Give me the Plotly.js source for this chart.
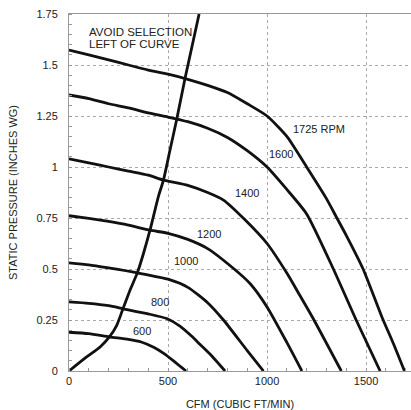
<!DOCTYPE html>
<html>
<head>
<meta charset="utf-8">
<script src="https://cdn.plot.ly/plotly-3.0.1.min.js"></script>
<style>html,body{margin:0;padding:0;background:#fff;overflow:hidden}#chart{width:411px;height:410px}</style>
</head>
<body>
<div id="chart"></div>
<script>
// Fan curves: CFM vs static pressure (inches WG)
var rpm1725Cfm = [0,100,200,300,400,500,600,700,800,900,1000,1100,1200,1300,1350,1400,1485,1580,1640,1694];
var rpm1725Sp  = [1.573,1.55,1.525,1.50,1.475,1.455,1.43,1.40,1.365,1.31,1.25,1.15,1.0,0.845,0.755,0.665,0.50,0.265,0.13,0];
var rpm1600Cfm = [0,100,200,300,400,500,600,700,800,900,1000,1100,1200,1335,1450,1571];
var rpm1600Sp  = [1.353,1.335,1.31,1.29,1.265,1.245,1.222,1.19,1.145,1.08,1.0,0.89,0.77,0.5,0.25,0];
var rpm1400Cfm = [0,100,200,300,400,477,600,700,780,890,1000,1100,1160,1237,1375];
var rpm1400Sp  = [1.04,1.02,1.0,0.98,0.96,0.936,0.91,0.875,0.838,0.74,0.625,0.48,0.38,0.25,0];
var rpm1200Cfm = [0,100,200,300,409,500,600,700,780,914,1000,1100,1176];
var rpm1200Sp  = [0.761,0.748,0.733,0.715,0.69,0.675,0.645,0.60,0.543,0.429,0.314,0.14,0];
var rpm1000Cfm = [0,100,200,345,500,600,700,780,900,982];
var rpm1000Sp  = [0.53,0.52,0.505,0.481,0.45,0.41,0.335,0.25,0.1,0];
var rpm800Cfm  = [0,100,200,274,400,493,560,620,662,720,788];
var rpm800Sp   = [0.339,0.332,0.32,0.305,0.28,0.257,0.22,0.17,0.13,0.075,0];
var rpm600Cfm  = [0,100,204,300,365,430,480,540,591];
var rpm600Sp   = [0.19,0.183,0.167,0.155,0.142,0.115,0.085,0.04,0];
// "Avoid selection left of curve" boundary
var limitCfm = [0,89,157,204,241,271,308,345,376,409,451,477,510,544,586,657];
var limitSp  = [0,0.069,0.118,0.167,0.224,0.301,0.396,0.481,0.576,0.69,0.854,0.936,1.083,1.234,1.435,1.75];

var rpmLabels = ['1725 RPM','1600','1400','1200','1000','800','600'];
var rpmLabelCfm = [1120,998,830,636,519,404,312];
var rpmLabelSp  = [1.185,1.063,0.875,0.674,0.538,0.336,0.195];

var xTickVals = [0,500,1000,1500];
var xTickText = ['0','500','1000','1500'];
var yTickVals = [0,0.25,0.5,0.75,1,1.25,1.5,1.75];
var yTickText = ['0','0.25','0.5','0.75','1','1.25','1.5','1.75'];

var series = [
  [rpm1725Cfm, rpm1725Sp], [rpm1600Cfm, rpm1600Sp], [rpm1400Cfm, rpm1400Sp],
  [rpm1200Cfm, rpm1200Sp], [rpm1000Cfm, rpm1000Sp], [rpm800Cfm, rpm800Sp],
  [rpm600Cfm, rpm600Sp], [limitCfm, limitSp]
];
var traces = series.map(function(s){
  return {x:s[0], y:s[1], type:'scatter', mode:'lines', hoverinfo:'skip',
    line:{color:'#111', width:2.8, shape:'spline', smoothing:0.6}};
});

var annotations = rpmLabels.map(function(t,i){
  return {x:rpmLabelCfm[i], y:rpmLabelSp[i], text:t, showarrow:false,
    xanchor:'left', yanchor:'middle', font:{size:11, color:'#222'}};
});
annotations.push({x:91, y:1.663, text:'AVOID SELECTION', showarrow:false, xanchor:'left', yanchor:'middle', font:{size:11.5, color:'#222'}});
annotations.push({x:91, y:1.604, text:'LEFT OF CURVE', showarrow:false, xanchor:'left', yanchor:'middle', font:{size:11.5, color:'#222'}});

var layout = {
  width:411, height:410,
  margin:{l:69, r:0, t:14, b:39},
  paper_bgcolor:'#fff', plot_bgcolor:'#fff',
  showlegend:false,
  font:{family:'"Liberation Sans", Arial, sans-serif', size:11, color:'#222'},
  xaxis:{range:[0,1727], tickvals:xTickVals, ticktext:xTickText,
    showgrid:true, gridcolor:'#aaa', griddash:'dot', gridwidth:1,
    showline:true, linecolor:'#999', linewidth:1, mirror:true,
    ticks:'', zeroline:false,
    minor:{dtick:100, ticks:'inside', ticklen:3, tickcolor:'#999', showgrid:false},
    title:{text:'CFM (CUBIC FT/MIN)', font:{size:11}, standoff:14}},
  yaxis:{range:[0,1.75], tickvals:yTickVals, ticktext:yTickText,
    showgrid:true, gridcolor:'#aaa', griddash:'dot', gridwidth:1,
    showline:true, linecolor:'#999', linewidth:1, mirror:true,
    ticks:'', zeroline:false, ticklabelstandoff:8,
    minor:{dtick:0.05, ticks:'inside', ticklen:3, tickcolor:'#999', showgrid:false},
    title:{text:'STATIC PRESSURE (INCHES WG)', font:{size:11}, standoff:16}},
  annotations:annotations
};
Plotly.newPlot('chart', traces, layout, {staticPlot:true, displayModeBar:false});
</script>
</body>
</html>
